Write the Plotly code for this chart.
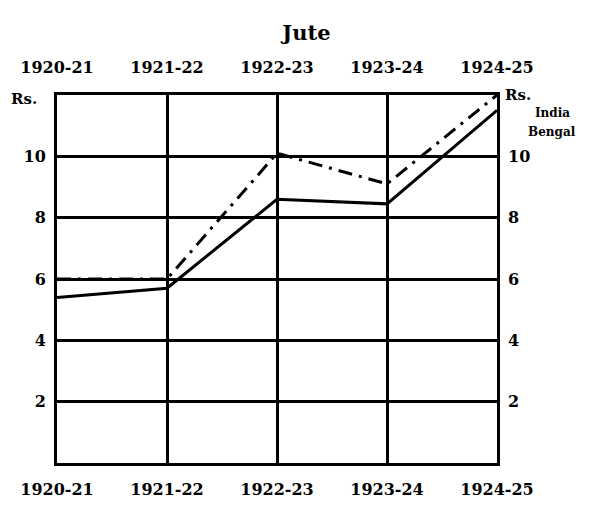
import plotly.graph_objects as go

years = ["1920-21", "1921-22", "1922-23", "1923-24", "1924-25"]
india = [6.0, 6.0, 10.1, 9.1, 12.0]
bengal = [5.4, 5.7, 8.6, 8.45, 11.5]
y_ticks = [2, 4, 6, 8, 10]
y_tick_text = ["2", "4", "6", "8", "10"]

FONT = "DejaVu Serif"
xs = list(range(len(years)))

fig = go.Figure()
fig.add_trace(go.Scatter(x=xs, y=india, mode="lines", name="India",
                         line=dict(color="black", width=3, dash="14px,7px,3px,7px")))
fig.add_trace(go.Scatter(x=xs, y=bengal, mode="lines", name="Bengal",
                         line=dict(color="black", width=3)))
# invisible trace for the secondary axes
fig.add_trace(go.Scatter(x=xs, y=bengal, xaxis="x2", yaxis="y2", mode="lines",
                         line=dict(color="rgba(0,0,0,0)"), hoverinfo="skip", showlegend=False))

tickfont = dict(family=FONT, size=16, color="black", weight="bold")

fig.update_layout(
    width=613, height=511,
    margin=dict(l=57, r=116, t=95, b=43),
    paper_bgcolor="white", plot_bgcolor="white",
    showlegend=False,
    title=dict(text="Jute", x=0.5, xref="container", y=1 - 33 / 511, yanchor="middle",
               font=dict(family=FONT, size=21, color="black", weight="bold")),
    xaxis=dict(range=[0, 4], tickvals=xs, ticktext=years, tickfont=tickfont,
               showgrid=True, gridcolor="black", gridwidth=2.5, zeroline=False,
               showline=True, linecolor="black", linewidth=3, mirror=True,
               ticks="", ticklabelstandoff=10),
    xaxis2=dict(range=[0, 4], tickvals=xs, ticktext=years, tickfont=tickfont,
                overlaying="x", side="top", showgrid=False, zeroline=False,
                ticks="", ticklabelstandoff=18),
    yaxis=dict(range=[0, 12], tickvals=y_ticks, ticktext=y_tick_text, tickfont=tickfont,
               showgrid=True, gridcolor="black", gridwidth=2.5, zeroline=False,
               showline=True, linecolor="black", linewidth=3, mirror=True,
               ticks="", ticklabelstandoff=5),
    yaxis2=dict(range=[0, 12], tickvals=y_ticks, ticktext=y_tick_text, tickfont=tickfont,
                overlaying="y", side="right", showgrid=False, zeroline=False,
                ticks="", ticklabelstandoff=10),
)

small = dict(family=FONT, size=15, color="black", weight="bold")
fig.add_annotation(text="Rs.", xref="paper", yref="y", x=0, y=12, xanchor="right",
                   xshift=-18, yshift=-4, showarrow=False, font=small)
fig.add_annotation(text="Rs.", xref="paper", yref="y", x=1, y=12, xanchor="left",
                   xshift=6, showarrow=False, font=small)
fig.add_annotation(text="India", xref="paper", yref="y", x=1, y=11.4, xanchor="left",
                   xshift=36, showarrow=False,
                   font=dict(family=FONT, size=12, color="black", weight="bold"))
fig.add_annotation(text="Bengal", xref="paper", yref="y", x=1, y=10.8, xanchor="left",
                   xshift=29, showarrow=False,
                   font=dict(family=FONT, size=12, color="black", weight="bold"))

fig.write_html("out.html", config={"displayModeBar": False},
               post_script="document.body.style.margin='0';")
